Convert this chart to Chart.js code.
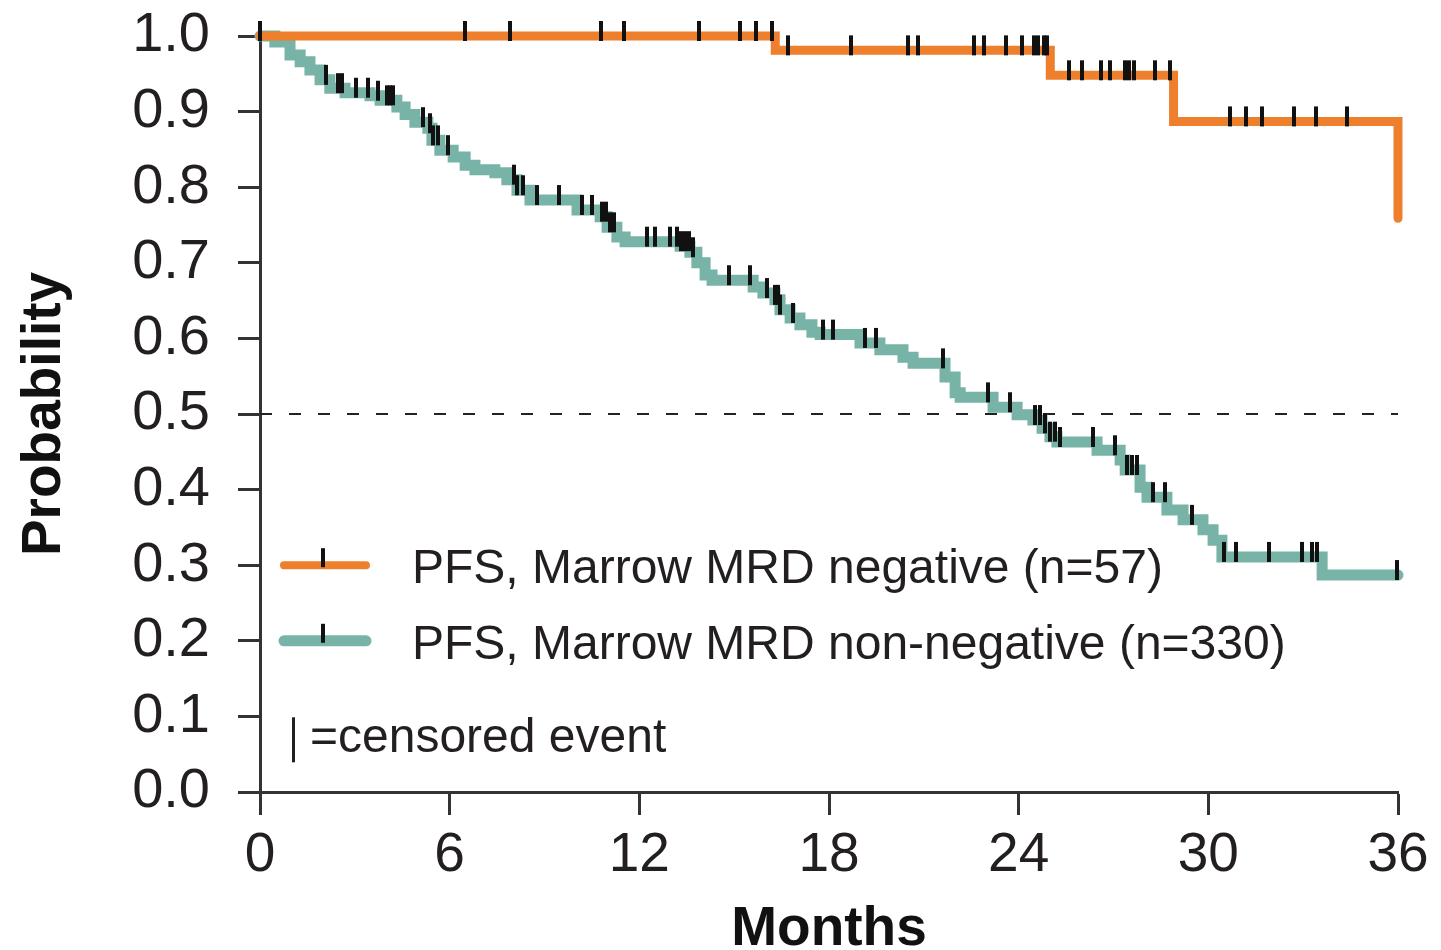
<!DOCTYPE html>
<html>
<head>
<meta charset="utf-8">
<script src="https://cdn.jsdelivr.net/npm/chart.js@4.4.1/dist/chart.umd.min.js"></script>
<style>
    body { margin: 0; background: #fff; }
    #contenedor { width: 1441px; height: 950px; }
</style>
</head>
<body>
<div id="contenedor"><canvas id="grafico" width="1441" height="950"></canvas></div>
<script>
// PFS, Marrow MRD negative (n=57): step times (months) and survival
const mesesNeg = [0, 16.3, 25.0, 28.9, 36];
const probNeg = [1.0, 0.981, 0.948, 0.887, 0.759];
const censNeg = [0, 6.5, 7.9, 10.8, 11.5, 13.9, 15.2, 15.7, 16.2, 16.7, 18.7, 20.5, 20.8, 22.6, 22.9,
    23.6, 24.1, 24.5, 24.6, 24.8, 24.9, 25.6, 26.0, 26.6, 26.9, 27.35, 27.5, 27.65, 28.3, 28.8,
    30.7, 31.2, 31.7, 32.7, 33.4, 34.4];

// PFS, Marrow MRD non-negative (n=330)
const mesesNoNeg = [0, 0.47, 0.95, 1.27, 1.58, 1.9, 2.21, 2.69, 3.48, 3.8, 4.33, 4.59, 4.9, 5.31, 5.44,
    5.69, 6.11, 6.49, 6.8, 7.43, 7.81, 8.13, 8.54, 10.03, 10.76, 10.98, 11.29, 11.55, 13.29, 13.6,
    13.82, 14.08, 14.3, 15.6, 15.91, 16.29, 16.45, 16.77, 17.08, 17.46, 17.72, 18.98, 19.61, 20.34,
    20.66, 21.67, 21.99, 22.15, 23.19, 23.95, 24.45, 24.74, 24.99, 25.21, 26.48, 27.21, 27.37, 27.84,
    28.06, 28.69, 29.2, 29.83, 30.15, 30.43, 33.6, 36];
const probNoNeg = [1.0, 0.992, 0.975, 0.966, 0.955, 0.942, 0.931, 0.925, 0.921, 0.915, 0.906, 0.896,
    0.886, 0.878, 0.862, 0.849, 0.84, 0.829, 0.823, 0.819, 0.81, 0.796, 0.783, 0.77, 0.761, 0.747,
    0.734, 0.728, 0.722, 0.714, 0.7, 0.684, 0.677, 0.668, 0.66, 0.651, 0.638, 0.627, 0.618, 0.608,
    0.605, 0.594, 0.585, 0.575, 0.567, 0.549, 0.528, 0.522, 0.509, 0.499, 0.492, 0.481, 0.47, 0.463,
    0.452, 0.439, 0.426, 0.403, 0.39, 0.373, 0.36, 0.347, 0.333, 0.311, 0.287, 0.287];
const censNoNeg = [2.09, 2.47, 2.59, 3.04, 3.42, 3.73, 4.02, 4.11, 4.21, 5.16, 5.38, 5.47, 5.63, 5.95,
    8.04, 8.13, 8.32, 8.76, 9.46, 10.19, 10.5, 10.82, 10.95, 11.07, 11.2, 12.24, 12.5, 12.97, 13.19,
    13.32, 13.45, 13.57, 13.7, 14.84, 15.5, 16.04, 16.29, 16.39, 16.45, 16.86, 17.81, 18.13, 19.14,
    19.49, 21.61, 23.03, 23.73, 24.52, 24.68, 24.83, 24.99, 25.15, 25.31, 26.35, 27.05, 27.43, 27.59,
    27.74, 28.25, 28.63, 29.48, 30.5, 30.88, 31.92, 32.96, 33.28, 33.44, 35.97];

const etiquetas = ['PFS, Marrow MRD negative (n=57)', 'PFS, Marrow MRD non-negative (n=330)'];
const mesesTicks = [0, 6, 12, 18, 24, 30, 36];
const mediana = 0.5;

const naranja = '#EE7F2D';
const verde = '#77B3A6';
const fuente = "'Liberation Sans', Arial, sans-serif";

function puntos(meses, probs) {
    return meses.map((m, i) => ({ x: m, y: probs[i] }));
}

// survival level at time t (last step at or before t)
function nivel(t, meses, probs) {
    let p = probs[0];
    for (let i = 0; i < meses.length; i++) {
        if (meses[i] <= t) p = probs[i];
    }
    return p;
}

// censor mark: short vertical bar sitting on the curve
const marca = document.createElement('canvas');
marca.width = 4;
marca.height = 38;
const mctx = marca.getContext('2d');
mctx.fillStyle = '#111';
mctx.fillRect(0, 4, 4, 20);

const leyenda = {
    id: 'leyenda',
    afterDraw(chart) {
        const ctx = chart.ctx;
        const area = chart.chartArea;
        const ys = chart.scales.y;
        const filas = [
            { y: ys.getPixelForValue(0.3), color: naranja, ancho: 8, texto: etiquetas[0] },
            { y: ys.getPixelForValue(0.2), color: verde, ancho: 11, texto: etiquetas[1] }
        ];
        ctx.save();
        filas.forEach(f => {
            ctx.strokeStyle = f.color;
            ctx.lineWidth = f.ancho;
            ctx.lineCap = 'round';
            ctx.beginPath();
            ctx.moveTo(area.left + 24, f.y);
            ctx.lineTo(area.left + 106, f.y);
            ctx.stroke();
            ctx.fillStyle = '#111';
            ctx.fillRect(area.left + 61, f.y - 17, 4, 19);
            ctx.fillStyle = '#231f20';
            ctx.font = '48px ' + fuente;
            ctx.textBaseline = 'alphabetic';
            ctx.fillText(f.texto, area.left + 152, f.y + 18);
        });
        const yc = ys.getPixelForValue(0.075);
        ctx.fillStyle = '#231f20';
        ctx.fillRect(area.left + 32, yc - 18, 3, 45);
        ctx.font = '48px ' + fuente;
        ctx.fillText('=censored event', area.left + 50, yc + 17);
        ctx.restore();
    }
};

document.addEventListener('DOMContentLoaded', function() {
    const canva = document.getElementById('grafico');

    new Chart(canva, {
        type: 'line',
        data: {
            datasets: [{
                label: 'censored negative',
                data: censNeg.map(t => ({ x: t, y: nivel(t, mesesNeg, probNeg) })),
                showLine: false,
                pointStyle: marca,
                pointRadius: 5,
                clip: false,
                order: 0
            },
            {
                label: 'censored non-negative',
                data: censNoNeg.map(t => ({ x: t, y: nivel(t, mesesNoNeg, probNoNeg) })),
                showLine: false,
                pointStyle: marca,
                pointRadius: 5,
                clip: false,
                order: 1
            },
            {
                label: etiquetas[0],
                data: puntos(mesesNeg, probNeg),
                borderColor: naranja,
                borderWidth: 9,
                borderCapStyle: 'round',
                stepped: 'before',
                pointRadius: 0,
                clip: false,
                order: 2
            },
            {
                label: etiquetas[1],
                data: puntos(mesesNoNeg, probNoNeg),
                borderColor: verde,
                borderWidth: 11,
                borderCapStyle: 'round',
                stepped: 'before',
                pointRadius: 0,
                clip: false,
                order: 3
            },
            {
                label: 'median',
                data: [{ x: 0, y: mediana }, { x: 36, y: mediana }],
                borderColor: '#222',
                borderWidth: 2,
                borderDash: [12, 17],
                pointRadius: 0,
                order: 4
            }]
        },
        options: {
            responsive: false,
            animation: false,
            layout: {
                padding: { top: 36, right: 43, left: 0, bottom: 0 }
            },
            plugins: {
                legend: { display: false },
                tooltip: { enabled: false }
            },
            scales: {
                x: {
                    type: 'linear',
                    min: 0,
                    max: 36,
                    afterBuildTicks: s => { s.ticks = mesesTicks.map(v => ({ value: v })); },
                    ticks: {
                        color: '#231f20',
                        font: { family: fuente, size: 55 },
                        padding: 8,
                        maxRotation: 0,
                        autoSkip: false
                    },
                    grid: {
                        drawOnChartArea: false,
                        tickLength: 23,
                        tickWidth: 3,
                        tickColor: '#333'
                    },
                    border: { color: '#333', width: 3 },
                    title: {
                        display: true,
                        text: 'Months',
                        color: '#111',
                        font: { family: fuente, size: 55, weight: 'bold' },
                        padding: { top: 0, bottom: -13 }
                    },
                    afterFit: s => { s.height = 158; }
                },
                y: {
                    min: 0,
                    max: 1,
                    ticks: {
                        stepSize: 0.1,
                        callback: v => v.toFixed(1),
                        color: '#231f20',
                        font: { family: fuente, size: 56 },
                        padding: 28,
                        autoSkip: false
                    },
                    grid: {
                        drawOnChartArea: false,
                        tickLength: 22,
                        tickWidth: 3,
                        tickColor: '#333'
                    },
                    border: { color: '#333', width: 3 },
                    title: {
                        display: true,
                        text: 'Probability',
                        color: '#111',
                        font: { family: fuente, size: 55, weight: 'bold' },
                        padding: { top: 12, bottom: 0 }
                    },
                    afterFit: s => {
                        s.width = 260;
                        s.paddingTop = 0;
                        s.paddingBottom = 0;
                    }
                }
            }
        },
        plugins: [leyenda]
    });
});
</script>
</body>
</html>
